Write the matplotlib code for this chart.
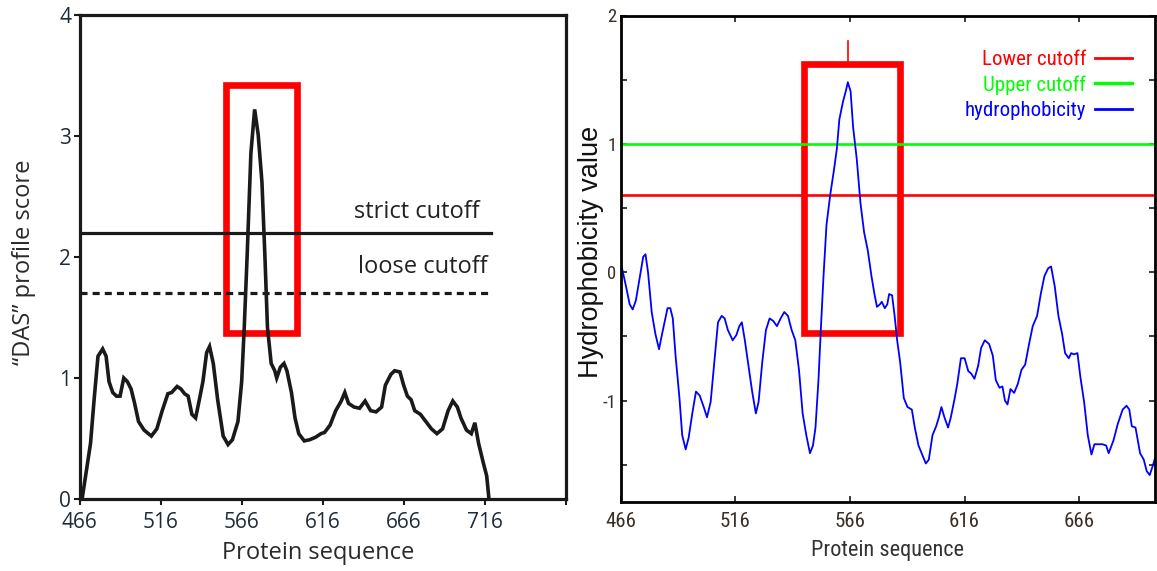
import matplotlib
matplotlib.use("Agg")
from matplotlib import pyplot as plt
from matplotlib import patches
from matplotlib.lines import Line2D

plt.rcParams["axes.unicode_minus"] = False

# ---- left panel: DAS profile ----
das_pos = [467.6, 472.8, 475.0, 477.4, 480.3, 482.4, 484.2, 486.5, 488.8, 491.0,
           493.3, 495.5, 497.8, 500.0, 502.4, 505.8, 510.3, 513.7, 517.0, 520.5,
           522.8, 526.2, 528.5, 530.8, 533.0, 535.3, 537.6, 539.9, 542.1, 544.4,
           546.2, 548.5, 551.2, 554.6, 557.6, 560.3, 563.7, 566.0, 567.6, 569.4,
           571.7, 574.0, 576.2, 578.5, 580.3, 581.9, 584.2, 586.4, 587.6, 589.9,
           592.1, 593.9, 596.7, 598.9, 601.2, 604.6, 608.0, 611.5, 614.9, 617.1,
           620.5, 624.0, 627.4, 629.6, 631.9, 635.3, 638.7, 642.1, 645.5, 648.9,
           652.3, 654.6, 658.0, 660.3, 663.6, 665.9, 668.2, 670.5, 672.7, 676.2,
           679.6, 683.0, 686.4, 689.9, 693.3, 696.2, 699.0, 701.2, 704.6, 707.6,
           709.8, 712.1, 714.8, 717.1, 718.5]
das_score = [0.0, 0.46, 0.82, 1.18, 1.24, 1.18, 0.97, 0.88, 0.85, 0.85,
             1.0, 0.97, 0.91, 0.79, 0.64, 0.57, 0.52, 0.58, 0.73, 0.87,
             0.88, 0.93, 0.91, 0.87, 0.85, 0.70, 0.67, 0.82, 0.97, 1.21,
             1.26, 1.12, 0.82, 0.52, 0.45, 0.49, 0.64, 0.97, 1.42, 2.02,
             2.86, 3.22, 3.01, 2.62, 2.02, 1.42, 1.12, 1.06, 1.0, 1.09,
             1.12, 1.06, 0.88, 0.67, 0.54, 0.48, 0.49, 0.51, 0.54, 0.55,
             0.61, 0.73, 0.81, 0.88, 0.79, 0.76, 0.75, 0.81, 0.73, 0.72,
             0.76, 0.94, 1.03, 1.06, 1.05, 0.94, 0.85, 0.82, 0.73, 0.70,
             0.64, 0.58, 0.54, 0.58, 0.73, 0.81, 0.76, 0.67, 0.57, 0.54,
             0.63, 0.46, 0.31, 0.19, 0.0]
strict_cutoff = 2.2
loose_cutoff = 1.7
cutoff_end = 720
das_box = (556.2, 600.3, 1.37, 3.42)   # x0, x1, y0, y1
das_xticks = [466, 516, 566, 616, 666, 716, 766]
das_yticks = [0, 1, 2, 3, 4]

# ---- right panel: hydrophobicity ----
hyd_pos = [466.5, 468.4, 470.0, 471.3, 472.7, 474.3, 475.9, 476.9, 478.0, 479.6,
           481.2, 482.8, 483.9, 485.2, 486.5, 487.7, 488.8, 490.0, 491.7, 492.9,
           494.4, 495.7, 497.3, 498.9, 500.5, 502.1, 503.7, 505.3, 506.9, 508.5,
           510.1, 511.4, 512.8, 514.9, 516.5, 517.8, 518.9, 520.2, 521.8, 523.4,
           525.0, 526.2, 527.8, 529.4, 531.0, 532.6, 534.2, 535.8, 537.4, 539.0,
           540.6, 542.2, 543.8, 545.4, 547.0, 548.6, 549.9, 551.0, 552.3, 553.4,
           554.5, 555.8, 557.4, 559.0, 560.3, 561.4, 563.0, 564.2, 565.1, 566.3,
           567.4, 569.0, 570.6, 572.2, 573.8, 575.4, 576.7, 577.8, 579.1, 579.9,
           581.2, 582.3, 583.1, 584.4, 585.5, 586.6, 587.9, 589.5, 591.1, 593.0,
           594.3, 595.9, 597.5, 599.1, 600.4, 602.0, 603.6, 604.8, 605.9, 607.2,
           608.8, 610.0, 611.7, 612.8, 614.4, 616.0, 617.6, 618.9, 620.3, 621.9,
           623.2, 624.8, 626.7, 628.3, 629.6, 631.2, 632.5, 633.6, 634.7, 636.0,
           637.6, 639.2, 640.8, 642.4, 644.1, 645.7, 647.6, 649.2, 650.8, 652.4,
           653.7, 655.3, 656.9, 658.5, 659.8, 661.4, 662.5, 663.6, 665.2, 666.5,
           668.1, 669.7, 671.3, 672.6, 674.5, 676.1, 677.7, 678.8, 680.9, 682.8,
           684.9, 686.6, 687.8, 688.9, 690.5, 692.5, 694.1, 695.4, 696.7, 697.8,
           699.0]
hyd_value = [0.045, -0.11, -0.25, -0.29, -0.22, -0.05, 0.12, 0.14, 0.0, -0.31,
             -0.48, -0.60, -0.50, -0.39, -0.28, -0.28, -0.36, -0.65, -0.98, -1.27,
             -1.38, -1.29, -1.10, -0.93, -0.96, -1.04, -1.13, -1.01, -0.70, -0.39,
             -0.34, -0.36, -0.45, -0.53, -0.49, -0.42, -0.39, -0.53, -0.73, -0.93,
             -1.10, -1.01, -0.70, -0.45, -0.36, -0.38, -0.42, -0.36, -0.31, -0.34,
             -0.45, -0.53, -0.76, -1.10, -1.27, -1.41, -1.35, -1.21, -0.84, -0.42,
             -0.03, 0.37, 0.60, 0.79, 0.96, 1.19, 1.33, 1.41, 1.48, 1.41,
             1.13, 0.88, 0.54, 0.31, 0.17, -0.03, -0.17, -0.27, -0.25, -0.23,
             -0.28, -0.25, -0.17, -0.18, -0.34, -0.53, -0.70, -0.98, -1.05, -1.07,
             -1.21, -1.35, -1.42, -1.49, -1.46, -1.27, -1.20, -1.13, -1.05, -1.13,
             -1.21, -1.13, -0.98, -0.87, -0.67, -0.67, -0.77, -0.79, -0.83, -0.73,
             -0.59, -0.53, -0.56, -0.65, -0.84, -0.90, -0.89, -1.0, -1.03, -0.91,
             -0.94, -0.87, -0.76, -0.72, -0.56, -0.42, -0.34, -0.17, -0.03, 0.03,
             0.045, -0.11, -0.34, -0.48, -0.63, -0.67, -0.63, -0.64, -0.63, -0.82,
             -1.01, -1.27, -1.42, -1.34, -1.34, -1.34, -1.35, -1.41, -1.31, -1.18,
             -1.07, -1.04, -1.07, -1.20, -1.21, -1.41, -1.46, -1.55, -1.58, -1.52,
             -1.45]
lower_cutoff = 0.6
upper_cutoff = 1.0
hyd_box = (546.2, 587.9, -0.474, 1.62)
hyd_mark = (565, 1.64, 1.80)
hyd_xticks = [466, 516, 566, 616, 666]
hyd_yticks = [-1, 0, 1, 2]
hyd_minor = [-1.5, -0.5, 0.5, 1.5]

W, H = 1157, 571
fig = plt.figure(figsize=(W / 100, H / 100), dpi=100)

# ---------------- left panel ----------------
left_font = ["Open Sans", "DejaVu Sans"]
lab_col = "#1f2b38"
ax1 = fig.add_axes([79.5 / W, 1 - 499 / H, 486.5 / W, 484 / H])
ax1.plot(das_pos, das_score, color="#1a1a1a", lw=2.6, solid_joinstyle="miter")
ax1.plot([das_xticks[0], cutoff_end], [strict_cutoff] * 2, color="#1a1a1a", lw=2.3)
ax1.plot([das_xticks[0], cutoff_end], [loose_cutoff] * 2, color="#1a1a1a", lw=2.3,
         dashes=(2.2, 1.6))
ax1.text(712.6, 2.27, "strict cutoff", ha="right", va="bottom", fontsize=17,
         family=left_font, color="#222222")
ax1.text(717.6, 1.82, "loose cutoff", ha="right", va="bottom", fontsize=17,
         family=left_font, color="#222222")
ax1.add_patch(patches.Rectangle((das_box[0], das_box[2]), das_box[1] - das_box[0],
                                das_box[3] - das_box[2], fill=False,
                                edgecolor="#ff0000", lw=4.8, joinstyle="miter"))
ax1.set_xlim(466, 766)
ax1.set_ylim(0, 4)
ax1.set_xticks(das_xticks)
ax1.set_xticklabels([str(t) for t in das_xticks[:-1]] + [""])
ax1.set_yticks(das_yticks)
for s in ax1.spines.values():
    s.set_linewidth(2.3)
    s.set_color("#1a1a1a")
ax1.tick_params(direction="out", length=4, width=1.5, colors="#1a1a1a",
                labelsize=15, labelcolor=lab_col, pad=2)
ax1.tick_params(axis="x", pad=5)
for lbl in ax1.get_xticklabels() + ax1.get_yticklabels():
    lbl.set_family(left_font)
ax1.set_ylabel("\u201cDAS\u201d profile score", fontsize=17, family=left_font,
               color="#2a2a2a")
ax1.yaxis.set_label_coords(-0.089, 0.49)
ax1.set_xlabel("Protein sequence", fontsize=17, family=left_font, color="#2a2a2a")
ax1.xaxis.set_label_coords(0.49, -0.087)

# ---------------- right panel ----------------
narrow = ["Liberation Sans Narrow", "Roboto Condensed", "Noto Sans Condensed",
          "Open Sans Condensed", "Liberation Sans"]
ax2 = fig.add_axes([620.5 / W, 1 - 502 / H, 534.5 / W, 486.5 / H])
ax2.axhline(upper_cutoff, color="#00ff00", lw=1.9)
ax2.axhline(lower_cutoff, color="#ff0000", lw=1.9)
ax2.plot(hyd_pos, hyd_value, color="#0000ff", lw=1.3)
ax2.add_patch(patches.Rectangle((hyd_box[0], hyd_box[2]), hyd_box[1] - hyd_box[0],
                                hyd_box[3] - hyd_box[2], fill=False,
                                edgecolor="#ff0000", lw=4.8, joinstyle="miter"))
ax2.plot([hyd_mark[0]] * 2, hyd_mark[1:], color="#ff0000", lw=1.2, clip_on=False)
ax2.set_xlim(466, 699)
ax2.set_ylim(-1.79, 2)
ax2.set_xticks(hyd_xticks)
ax2.set_yticks(hyd_yticks)
ax2.set_yticks(hyd_minor, minor=True)
ax2.tick_params(which="both", direction="in", length=4, width=1.2,
                top=True, right=True, colors="#1a1a1a", labelcolor="#3b3027")
ax2.tick_params(axis="x", labelsize=15, pad=7)
ax2.tick_params(axis="y", labelsize=13.5, pad=3)
for lbl in ax2.get_xticklabels() + ax2.get_yticklabels():
    lbl.set_family(narrow)
    lbl.set_fontstretch("condensed")
for s in ax2.spines.values():
    s.set_linewidth(2.0)
    s.set_color("#000000")
ax2.set_ylabel("Hydrophobicity value", fontsize=19.5,
               family=["Liberation Sans", "DejaVu Sans"], color="#111111")
ax2.yaxis.set_label_coords(-0.031, 0.514)
ax2.set_xlabel("Protein sequence", fontsize=16, family=narrow,
               fontstretch="condensed", color="#333333")
ax2.xaxis.set_label_coords(0.499, -0.078)

handles = [Line2D([], [], color="#ff0000", lw=2.0),
           Line2D([], [], color="#00ff00", lw=2.4),
           Line2D([], [], color="#0000ff", lw=2.0)]
labels = ["Lower cutoff", "Upper cutoff", "hydrophobicity"]
leg = ax2.legend(handles, labels, loc="upper right", bbox_to_anchor=(0.957, 0.929),
                 frameon=False, markerfirst=False, labelcolor="linecolor",
                 handlelength=1.8, handletextpad=0.4, labelspacing=0.3,
                 borderpad=0, borderaxespad=0,
                 prop={"family": narrow, "size": 15, "stretch": "condensed"})

fig.savefig("out.png", dpi=100)
